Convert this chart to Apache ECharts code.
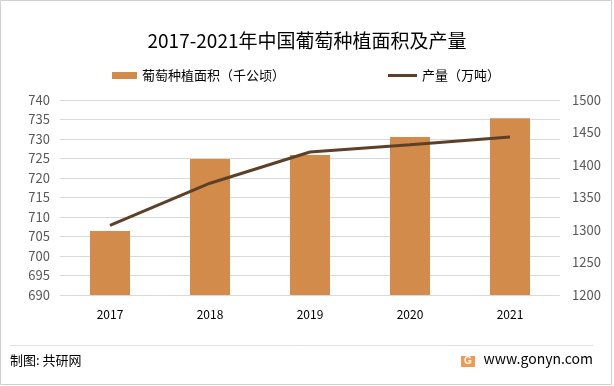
<!DOCTYPE html>
<html><head><meta charset="utf-8">
<script src="https://cdn.jsdelivr.net/npm/echarts@6/dist/echarts.min.js"></script>
<style>html,body{margin:0;padding:0;background:#fff}#c{width:614px;height:386px}</style>
</head><body><div id="c"></div>
<script>
const categories = ['2017','2018','2019','2020','2021'];
const areaValues = [706.4, 724.9, 725.9, 730.5, 735.3];
const outputValues = [1307, 1372, 1420, 1431, 1443];
const leftTicks = [690, 740, 5];
const rightTicks = [1200, 1500, 50];

const chart = echarts.init(document.getElementById('c'));
const font = '"Microsoft YaHei","Noto Sans CJK SC",sans-serif';
chart.setOption({
  backgroundColor: '#fff',
  animation: false,
  title: {text: '2017-2021年中国葡萄种植面积及产量', left: 'center', top: 26,
    textStyle: {fontFamily: font, fontSize: 19, fontWeight: 'normal', color: '#000'}},
  legend: [
    {top: 69, left: 112, padding: 0, itemWidth: 25, itemHeight: 7,
      textStyle: {fontFamily: font, fontSize: 13, color: '#000'},
      data: [{name: '葡萄种植面积（千公顷）', icon: 'rect'}]},
    {top: 69, left: 388, padding: 0, itemWidth: 29, itemHeight: 3,
      textStyle: {fontFamily: font, fontSize: 13, color: '#000'},
      data: [{name: '产量（万吨）', icon: 'rect', itemStyle: {color: '#5C4128'}}]}
  ],
  grid: {left: 60, right: 54, top: 100, bottom: 91},
  xAxis: {type: 'category', data: categories,
    axisLine: {show: false}, axisTick: {show: false},
    axisLabel: {color: '#000', fontSize: 12, margin: 13, fontFamily: font}},
  yAxis: [
    {type: 'value', min: leftTicks[0], max: leftTicks[1], interval: leftTicks[2],
      axisLine: {show: false}, axisTick: {show: false},
      axisLabel: {color: '#595959', fontSize: 13, margin: 10, fontFamily: font},
      splitLine: {lineStyle: {color: '#D9D9D9', width: 1}}},
    {type: 'value', min: rightTicks[0], max: rightTicks[1], interval: rightTicks[2],
      axisLine: {show: false}, axisTick: {show: false},
      axisLabel: {color: '#595959', fontSize: 13, margin: 12, fontFamily: font, formatter: v => String(v)},
      splitLine: {show: false}}
  ],
  series: [
    {name: '葡萄种植面积（千公顷）', type: 'bar', data: areaValues, barWidth: 40,
      itemStyle: {color: '#D38B4B'}},
    {name: '产量（万吨）', type: 'line', yAxisIndex: 1, data: outputValues,
      symbol: 'none', lineStyle: {color: '#5C4128', width: 3}, itemStyle: {color: '#5C4128'}}
  ],
  graphic: [
    {type: 'rect', shape: {x: 0.5, y: 0.5, width: 611, height: 384}, style: {fill: 'none', stroke: '#D0D0D0', lineWidth: 1}},
    {type: 'line', shape: {x1: 10, y1: 345.5, x2: 593, y2: 345.5}, style: {stroke: '#E0E0E0', lineWidth: 1}},
    {type: 'text', left: 10, top: 354, style: {text: '制图: 共研网', font: '13px ' + font, fill: '#000'}},
    {type: 'rect', shape: {x: 461, y: 356, width: 14, height: 11}, style: {fill: '#F39A50'}},
    {type: 'text', left: 464, top: 356, style: {text: 'G', font: 'bold 10px sans-serif', fill: '#fff'}},
    {type: 'text', right: 21, top: 352, style: {text: 'www.gonyn.com', font: '14px ' + font, fill: '#000'}}
  ]
});
</script></body></html>
